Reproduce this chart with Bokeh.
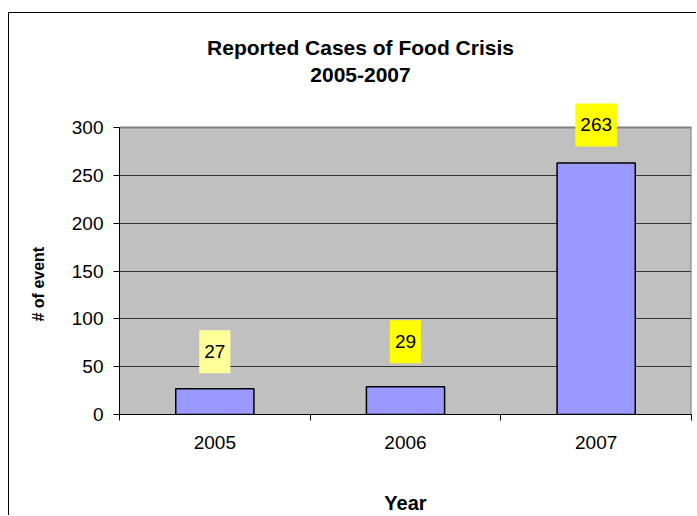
from bokeh.plotting import figure
from bokeh.models import Range1d, FixedTicker, Label, BoxAnnotation, Title
from bokeh.embed import file_html
from bokeh.resources import INLINE

# Data
years = ["2005", "2006", "2007"]
cases = [27, 29, 263]
y_ticks = [0, 50, 100, 150, 200, 250, 300]
y_max = 300
title_lines = ["Reported Cases of Food Crisis", "2005-2007"]

# Style
FONT = "Liberation Sans"
label_colors = ["#FFFF99", "#FFFF00", "#FFFF00"]
label_offsets = [37, 45, 38]

# Geometry of the chart area (px)
W, H = 688, 503
FRAME_LEFT, FRAME_RIGHT_PAD, FRAME_BOTTOM_PAD = 110, 6, 102
PLOT_AREA_H = 287          # height of the 0..300 plot area
frame_h = H - FRAME_BOTTOM_PAD
y_top = y_max * frame_h / PLOT_AREA_H

centers = [i + 0.5 for i in range(len(years))]

p = figure(width=W, height=H, output_backend="svg", toolbar_location=None,
           x_range=Range1d(0, len(years)), y_range=Range1d(0, y_top),
           min_border_left=FRAME_LEFT, min_border_right=FRAME_RIGHT_PAD,
           min_border_top=0, min_border_bottom=FRAME_BOTTOM_PAD)
p.styles = {"margin-left": "8px", "margin-top": "12px",
            "border-left": "1px solid black", "border-top": "1px solid black"}

p.background_fill_color = "white"
p.border_fill_color = "white"
p.outline_line_color = None

# gray plot area
p.add_layout(BoxAnnotation(left=0, right=len(years), bottom=0, top=y_max,
                           fill_color="#C0C0C0", fill_alpha=1, line_color=None,
                           level="image"))

# grid
p.xgrid.grid_line_color = None
p.ygrid.ticker = FixedTicker(ticks=y_ticks)
p.ygrid.grid_line_color = "#333333"
p.ygrid.grid_line_width = 1

# plot area border (top and right)
p.segment(x0=[0, len(years)], y0=[y_max, 0], x1=[len(years), len(years)],
          y1=[y_max, y_max], line_color="#808080", line_width=2)

# bars
p.vbar(x=centers, top=cases, width=0.41, bottom=0,
       fill_color="#9999FF", line_color="black", line_width=1.5)

# value labels
for xc, v, c, off in zip(centers, cases, label_colors, label_offsets):
    p.add_layout(Label(x=xc, y=v, text=str(v), y_offset=off,
                       text_align="center", text_baseline="middle",
                       text_font=FONT, text_font_size="19px", text_color="black",
                       background_fill_color=c, padding=dict(x=5, y=15)))

# y axis
p.yaxis.ticker = FixedTicker(ticks=y_ticks)
p.yaxis.bounds = (0, y_max)
p.yaxis.axis_line_color = "black"
p.yaxis.major_tick_out = 6
p.yaxis.major_tick_in = 0
p.yaxis.minor_tick_line_color = None
p.yaxis.major_label_standoff = 10
p.yaxis.major_label_text_font = FONT
p.yaxis.major_label_text_font_size = "19px"
p.yaxis.major_label_text_color = "black"

# y axis title
p.add_layout(Title(text="# of event", align="left", offset=93,
                   vertical_align="top", standoff=39,
                   text_font=FONT, text_font_style="bold", text_font_size="16px",
                   text_color="black"), "left")

# x axis: labels at category centres, ticks at category boundaries
p.xaxis.ticker = FixedTicker(ticks=centers, minor_ticks=list(range(len(years) + 1)))
p.xaxis.major_label_overrides = {c: y for c, y in zip(centers, years)}
p.xaxis.major_tick_line_color = None
p.xaxis.minor_tick_out = 6
p.xaxis.minor_tick_in = 0
p.xaxis.minor_tick_line_color = "black"
p.xaxis.axis_line_color = "black"
p.xaxis.major_label_standoff = 15
p.xaxis.major_label_text_font = FONT
p.xaxis.major_label_text_font_size = "19px"
p.xaxis.major_label_text_color = "black"
p.xaxis.axis_label = "Year"
p.xaxis.axis_label_standoff = 40
p.xaxis.axis_label_text_font = FONT
p.xaxis.axis_label_text_font_style = "bold"
p.xaxis.axis_label_text_font_size = "20px"
p.xaxis.axis_label_text_color = "black"

# chart title
for i, line in enumerate(title_lines):
    p.add_layout(Label(x=241, y=367 - 27.5 * i, x_units="screen", y_units="screen",
                       text=line, text_align="center", text_baseline="middle",
                       text_font=FONT, text_font_style="bold", text_font_size="21px",
                       text_color="black"))

open("out.html", "w").write(file_html(p, INLINE))
